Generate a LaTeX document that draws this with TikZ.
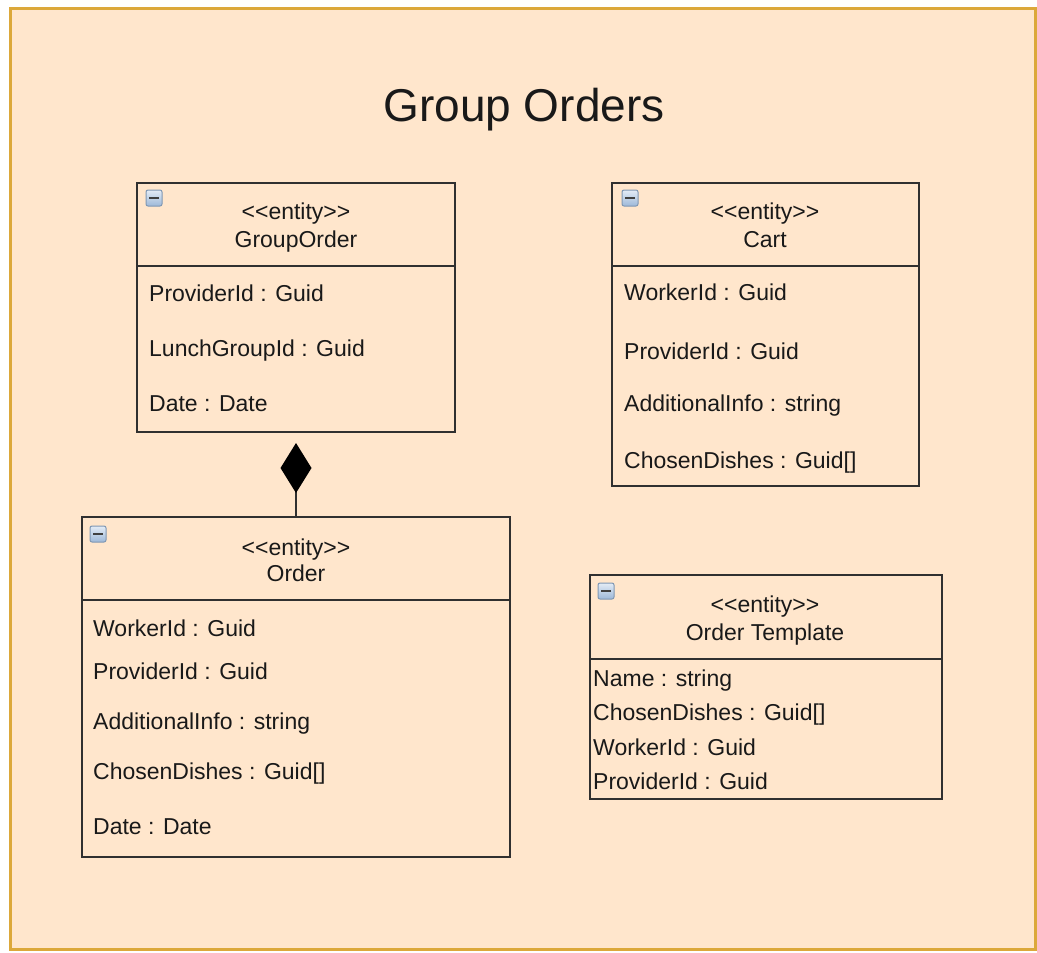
\documentclass[tikz,border=0pt]{standalone}
\usepackage{fontspec}
\setmainfont{Liberation Sans}
\usetikzlibrary{arrows.meta,shadings}
\definecolor{panelfill}{HTML}{FFE6CC}
\definecolor{paneldraw}{HTML}{DCA83A}
\definecolor{boxline}{HTML}{303030}
\definecolor{icontop}{HTML}{E4ECF6}
\definecolor{iconbot}{HTML}{9DB8D8}
\definecolor{iconline}{HTML}{7F97B3}
\tikzset{
  classbox/.style={draw=boxline, line width=2pt, rectangle, inner sep=0pt},
  divider/.style={draw=boxline, line width=2pt},
  txt/.style={font=\fontsize{23}{27}\selectfont, inner sep=0pt, text=black!90},
  attr/.style={txt, anchor=base west},
  head/.style={txt, anchor=base},
  compose/.style={draw=boxline, line width=2pt,
    -{Diamond[length=50pt,width=31pt,fill=black,color=black]}, shorten >=10pt},
}
% collapse icon in the top left corner of a class box
\newcommand{\collapseicon}[2]{%
  \shade[top color=icontop, bottom color=iconbot, draw=iconline, line width=1pt,
    rounded corners=2pt] (#1-8,#2-8) rectangle (#1+8,#2+8);
  \draw[line width=2.5pt, black!75] (#1-5,#2) -- (#1+5,#2);}
\begin{document}
\begin{tikzpicture}[x=1pt,y=-1pt]
\useasboundingbox (0,0) rectangle (1037,953);
\fill[white] (0,0) rectangle (1037,953);
\draw[fill=panelfill, draw=paneldraw, line width=3pt] (10,8) rectangle (1035.5,949);

\node[txt, font=\fontsize{46}{50}\selectfont, anchor=base] (title) at (524,121) {Group Orders};

% GroupOrder
\node[classbox, minimum width=318pt, minimum height=249pt] (go) at (296,307.5) {};
\draw[divider] (go.west |- 0,266) -- (go.east |- 0,266);
\collapseicon{154}{198}
\node[head] (gost) at (296,219) {<{}<entity>{}>};
\node[head] (goname) at (296,247) {GroupOrder};
\node[attr] (go1) at (149,301) {ProviderId : Guid};
\node[attr] (go2) at (149,356) {LunchGroupId : Guid};
\node[attr] (go3) at (149,411) {Date : Date};

% Cart
\node[classbox, minimum width=307pt, minimum height=303pt] (cart) at (765.5,334.5) {};
\draw[divider] (cart.west |- 0,266) -- (cart.east |- 0,266);
\collapseicon{630}{198}
\node[head] (cartst) at (765,219) {<{}<entity>{}>};
\node[head] (cartname) at (765,247) {Cart};
\node[attr] (cart1) at (624,300) {WorkerId : Guid};
\node[attr] (cart2) at (624,359) {ProviderId : Guid};
\node[attr] (cart3) at (624,411) {AdditionalInfo : string};
\node[attr] (cart4) at (624,468) {ChosenDishes : Guid[]};

% Order
\node[classbox, minimum width=428pt, minimum height=340pt] (order) at (296,687) {};
\draw[divider] (order.west |- 0,600) -- (order.east |- 0,600);
\collapseicon{98}{534}
\node[head] (orderst) at (296,555) {<{}<entity>{}>};
\node[head] (ordername) at (296,581) {Order};
\node[attr] (or1) at (93,636) {WorkerId : Guid};
\node[attr] (or2) at (93,679) {ProviderId : Guid};
\node[attr] (or3) at (93,729) {AdditionalInfo : string};
\node[attr] (or4) at (93,779) {ChosenDishes : Guid[]};
\node[attr] (or5) at (93,834) {Date : Date};

% Order Template
\node[classbox, minimum width=352pt, minimum height=224pt] (tpl) at (766,687) {};
\draw[divider] (tpl.west |- 0,659) -- (tpl.east |- 0,659);
\collapseicon{606}{591}
\node[head] (tplst) at (765,612) {<{}<entity>{}>};
\node[head] (tplname) at (765,640) {Order Template};
\node[attr] (tp1) at (593,686) {Name : string};
\node[attr] (tp2) at (593,720) {ChosenDishes : Guid[]};
\node[attr] (tp3) at (593,755) {WorkerId : Guid};
\node[attr] (tp4) at (593,789) {ProviderId : Guid};

% composition: Order is part of GroupOrder
\draw[compose] (order.north) -- (go.south);
\end{tikzpicture}
\end{document}
